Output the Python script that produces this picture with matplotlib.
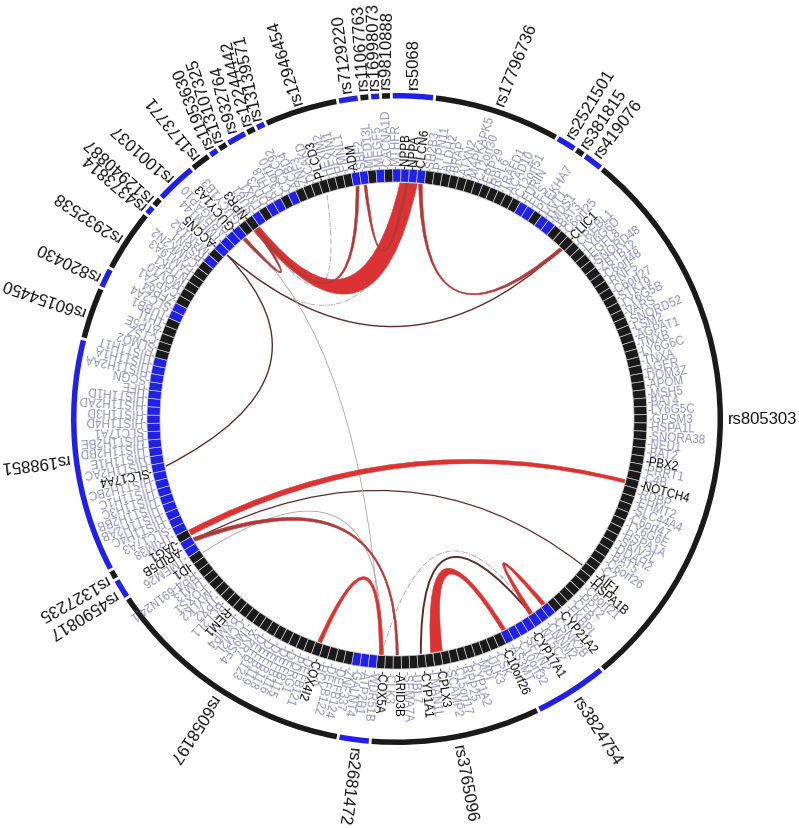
import numpy as np
import matplotlib
matplotlib.use("Agg")
import matplotlib.pyplot as plt
from matplotlib.patches import Wedge, PathPatch
from matplotlib.path import Path

plt.rcParams['font.family'] = ['Liberation Sans', 'DejaVu Sans']

# SNP segments clockwise: name, genes
rs5068 = ["MTHFR", "NPPB", "NPPA", "CLCN6"]
rs17796736 = ["SH2B3", "PTPN11", "ALDH2", "BRAP", "ATXN2", "MAPKAPK5", "C12orf30", "ERP29", "RPL6", "TRAFD1", "ACAD10", "C12orf51"]
rs2521501 = ["FURIN", "FES"]
rs381815 = ["PLEKHA7"]
rs419076 = ["HVT1", "MDS1"]
rs805303 = ["BAT3", "C6orf25", "CLIC1", "CREBL1", "LY6G6D", "EGFL8", "SNORD48", "ZBTB12", "C6orf48", "RNF5",
            "C6orf27", "STK19", "LY6G5B", "VARS", "SNORD52", "LSM2", "AGPAT1", "TNXB", "LY6G6C", "TNXA",
            "AGER", "DOM3Z", "APOM", "MSH5", "BAT4", "LY6G5C", "GPSM3", "HSPA1L", "SNORA38", "NEU1",
            "BAT2", "PBX2", "PRRT1", "C4B", "NOTCH4", "RDBP", "EHMT2", "SLC44A4", "C6orf47", "LY6G6E",
            "HSPA1A", "SKIV2L", "DDAH2", "BAT5", "C6orf26", "C2", "AIF1", "HSPA1B", "C6orf21", "PPT2",
            "CFB", "FKBPL", "CYP21A2"]
rs3824754 = ["CSNK2B", "CNNM2", "NT5C2", "CYP17A1", "SFXN2", "C10orf32", "AS3MT"]
rs3765096 = ["C10orf26", "CSK", "ULK3", "MPI", "CYP1A2", "RPP25", "C15orf17", "SCAMP2", "CPLX3", "LMAN1L",
             "CYP1A1", "UBL7", "SEMA7A", "ARID3B", "CLK3", "COX5A"]
rs2681472 = ["WDR51B", "ATP2B1", "GALNT4"]
rs6058197 = ["ZNF337", "DEFB124", "DEFB122", "HCK", "COX4I2", "DEFB121", "PDRG1", "DEFB115", "DEFB116", "DEFB118",
             "DEFB119", "DEFB123", "XKR7", "TM9SF4", "CCM2L", "PXMP4", "REM1", "BCL2L1", "TPX2", "MYLK2",
             "FOXS1", "HM13", "RP4-691N24.1", "ID1"]
rs4590817 = ["TMEM26", "ARID5B"]
rs1327235 = ["JAG1"]
rs198851 = ["TRIM38", "SLC17A3", "HIST1H4C", "HIST1H2AB", "HIST1H2BB", "HIST1H3C", "HIST1H1C", "HIST1H2BC",
            "SLC17A4", "HIST1H2AC", "HIST1H1E", "HIST1H2BD", "HIST1H2BE", "SLC17A1", "HIST1H4D", "HIST1H3D",
            "HIST1H2AD", "HIST1H1D", "HFE", "SCGN", "HIST1H2AA", "HIST1H1A"]
rs60154450 = ["HIST1H1T", "SLMO2", "CTSZ", "ATP5E", "TH1L"]
rs820430 = ["TUBB1", "SLC2A4"]
rs2932538 = ["ZFP64", "CAPZA1", "MOV10", "NTRK1", "FAM19A3", "CAMK2N2"]
rs4373814 = ["RSBN1"]
rs12940887 = ["MAN1A2"]
rs1001037 = ["ACCN5", "TMEM144", "ARHGAP10", "GUCY1A3"]
rs1173771 = ["GUCY1B3", "NPR3"]
rs11953630 = ["SUB1"]
rs13107325 = ["LNX1"]
rs932764 = ["ODZ3", "KLHL8"]
rs12244442 = ["C3orf10"]
rs13139571 = ["CCDC92"]
rs12946454 = ["ACBD4", "ZNF3", "DCAKD", "PLCD3", "HEXIM2", "HEXIM1", "FMNL1"]
rs7129220 = ["ADM", "SBF2"]
rs11067763 = ["MED13L"]
rs16998073 = ["MEGF5"]
rs9810888 = ["CACNA1D"]

snp_names = ["rs5068", "rs17796736", "rs2521501", "rs381815", "rs419076", "rs805303", "rs3824754", "rs3765096",
             "rs2681472", "rs6058197", "rs4590817", "rs1327235", "rs198851", "rs60154450", "rs820430", "rs2932538",
             "rs4373814", "rs12940887", "rs1001037", "rs1173771", "rs11953630", "rs13107325", "rs932764",
             "rs12244442", "rs13139571", "rs12946454", "rs7129220", "rs11067763", "rs16998073", "rs9810888"]
snp_genes = [rs5068, rs17796736, rs2521501, rs381815, rs419076, rs805303, rs3824754, rs3765096,
             rs2681472, rs6058197, rs4590817, rs1327235, rs198851, rs60154450, rs820430, rs2932538,
             rs4373814, rs12940887, rs1001037, rs1173771, rs11953630, rs13107325, rs932764,
             rs12244442, rs13139571, rs12946454, rs7129220, rs11067763, rs16998073, rs9810888]
highlighted = {"CLCN6", "NPPB", "NPPA", "ADM", "PLCD3", "NPR3", "GUCY1A3", "ACCN5", "SLC17A4", "JAG1", "ARID5B",
               "ID1", "REM1", "COX4I2", "COX5A", "ARID3B", "CYP1A1", "CPLX3", "C10orf26", "CYP17A1", "CYP21A2",
               "HSPA1B", "AIF1", "NOTCH4", "PBX2", "CLIC1"}

# links between genes
link_a = ["NPR3", "NPR3", "SBF2", "GUCY1A3", "NPR3", "ACCN5", "ACCN5", "ACCN5", "CLCN6",
          "NOTCH4", "ARID3B", "AIF1", "COX5A", "NT5C2", "GUCY1A3", "ID1", "AS3MT", "NT5C2", "CSNK2B"]
link_b = ["NPPB", "ADM", "NPPB", "NPR3", "PLCD3", "NPPA", "CLIC1", "SLC17A4", "CLIC1",
          "JAG1", "ARID5B", "ARID5B", "COX4I2", "COX5A", "COX5A", "COX5A", "CPLX3", "CYP1A1", "NT5C2"]
link_width_a = [0.9, 0.3, 0.35, 0.4, 0, 0, 0, 0, 0.45, 0.4, 0.3, 0, 0.5, 0, 0, 0, 0.5, 0, 0.5]
link_width_b = [2.2, 0.4, 0.35, 0.4, 0, 0, 0, 0, 0.45, 0.7, 0.5, 0, 0.5, 0, 0, 0, 1.5, 0, 0.5]

# drawing style of each link
link_nudge_b = [0.5, 0, 0.3, 0, 0, 0, 0, 0, 0, 0, 0, 0, 0, 0, 0, 0, 0, 0, 0]
link_ctrl_r = [62, 75, 103, 139, 77, 45, 18, 70, 60, 5, 47, 16, 91, 63, 83, 18, 88, 68, 125]
link_ctrl_da = [-11, -9.4, -6.6, 0, -12, -17, 0, 21.5, 0, 0, -29.7, -51, 0, -20, 85, 5, 0, 0, 0]
link_spread = [15, 1, 1, 1.5, 0, 0, 0, 0, 0.5, 2.5, 1.5, 0, 2.5, 0, 0, 0, 6, 0, 3.5]
RED, DRED, MAR, GRY = "#db3333", "#b03a3a", "#5c2c2c", "#a5a5a5"
link_color = [RED, DRED, DRED, DRED, GRY, GRY, MAR, MAR, DRED, RED, DRED, MAR, RED, GRY, GRY, GRY, RED, MAR, RED]
link_lw = [0, 0, 0, 0, 0.6, 0.6, 1.0, 1.0, 0, 0, 0, 0.9, 0, 0.6, 0.6, 0.6, 0, 1.4, 0]
link_ls = ["-", "-", "-", "-", "-.", "-.", "-", "-", "-", "-", "-", "-", "-", "-.", "-", "-", "-", "-", "-"]

W, H = 799, 829
CX, CY = 397, H - 420
START = -1.0
BLUE, BLACK = "#2020e6", "#1a1a1a"
GENE_GREY = "#8f8fb3"

fig = plt.figure(figsize=(W / 100, H / 100), dpi=100)
ax = fig.add_axes([0, 0, 1, 1])
ax.set_xlim(0, W)
ax.set_ylim(0, H)
ax.axis("off")

genes = [g for seg in snp_genes for g in seg]
N = len(genes)
assert N == 188, N
STEP = 360 / N
index = {g: i for i, g in enumerate(genes)}


def pos(a, r):
    t = np.radians(a)
    return np.array([CX + r * np.sin(t), CY + r * np.cos(t)])


def cell_angle(i):
    return START + (i + 0.5) * STEP


# text direction of the crowded rs labels
rs_rot = {"rs1001037": -48, "rs1173771": -39, "rs11953630": -22, "rs13107325": -18, "rs932764": -14,
          "rs12244442": -14, "rs13139571": -12, "rs11067763": -3.5, "rs16998073": -1, "rs9810888": 1.5, "rs5068": 0,
          "rs7129220": -7, "rs17796736": 22}

i0 = 0
for s, (name, seg) in enumerate(zip(snp_names, snp_genes)):
    col = BLUE if s % 2 == 0 else BLACK
    a0 = START + i0 * STEP
    a1 = START + (i0 + len(seg)) * STEP
    ax.add_patch(Wedge((CX, CY), 326, 90 - a1 + 0.25, 90 - a0 - 0.25, width=5.5, fc=col, ec="none"))
    mid = (a0 + a1) / 2
    p = pos(mid, 331)
    rot = rs_rot.get(name, mid)
    ax.text(p[0], p[1], name, fontsize=12, color="#111111", rotation=90 - rot, rotation_mode="anchor",
            ha="left", va="center")
    for k, g in enumerate(seg):
        i = i0 + k
        ax.add_patch(Wedge((CX, CY), 250, 90 - (START + (i + 1) * STEP), 90 - (START + i * STEP), width=13,
                           fc=col, ec="#c9c9c9", lw=0.5))
        a = cell_angle(i)
        q = pos(a, 251)
        hi = g in highlighted
        ax.text(q[0], q[1], "-" + g, fontsize=8.4, color="#000000" if hi else GENE_GREY, rotation=90 - a,
                rotation_mode="anchor", ha="left", va="center", zorder=3 if hi else 2)
    i0 += len(seg)

R = 236
for k in range(len(link_a)):
    a1 = cell_angle(index[link_a[k]])
    a2 = cell_angle(index[link_b[k]]) + link_nudge_b[k] * STEP
    w1, w2 = link_width_a[k] * STEP, link_width_b[k] * STEP
    d = (a2 - a1 + 180) % 360 - 180
    a2 = a1 + d
    if d < 0:
        a1, a2, w1, w2 = a2, a1, w2, w1
    th = (a1 + a2) / 2 + link_ctrl_da[k]
    r, sp = link_ctrl_r[k], link_spread[k]
    if link_lw[k] > 0:
        c = pos(th, r)
        path = Path([pos(a1, R), c, pos(a2, R)], [Path.MOVETO, Path.CURVE3, Path.CURVE3])
        ax.add_patch(PathPatch(path, fc="none", ec=link_color[k], lw=link_lw[k], ls=link_ls[k], zorder=4))
    else:
        u = pos(th, 1) - np.array([CX, CY])
        c0 = pos(th, r)
        c1, c2 = c0 - u * sp, c0 + u * sp
        verts = [pos(a1 - w1 / 2, R), c1, pos(a2 + w2 / 2, R), pos(a2 - w2 / 2, R), c2, pos(a1 + w1 / 2, R),
                 pos(a1 - w1 / 2, R)]
        codes = [Path.MOVETO, Path.CURVE3, Path.CURVE3, Path.LINETO, Path.CURVE3, Path.CURVE3, Path.CLOSEPOLY]
        ax.add_patch(PathPatch(Path(verts, codes), fc=link_color[k], ec=link_color[k], lw=0.4, zorder=5))

fig.savefig("out.png", dpi=100, facecolor="white")
